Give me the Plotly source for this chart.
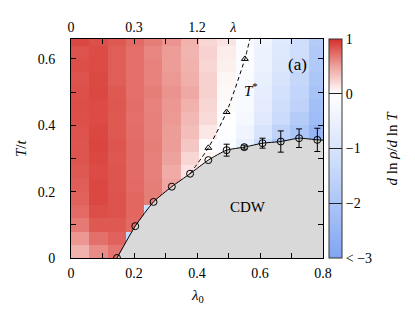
import plotly.graph_objects as go

# heatmap grid (cell centres)
lam_centers = [0.029 + 0.058 * k for k in range(14)]
T_centers = [0.02 + 0.04 * j for j in range(17)]

# d ln rho / d ln T, one list per lambda0 column, from T bottom to top
c0 = [0.42, 0.55, 0.68, 0.75, 0.78, 0.80, 0.82, 0.84, 0.84, 0.85, 0.86, 0.87, 0.86, 0.85, 0.87, 0.85, 0.90]
c1 = [0.60, 0.72, 0.82, 0.87, 0.90, 0.90, 0.88, 0.90, 0.91, 0.90, 0.88, 0.88, 0.90, 0.89, 0.88, 0.88, 0.86]
c2 = [0.70, 0.78, 0.82, 0.85, 0.85, 0.84, 0.84, 0.83, 0.84, 0.82, 0.82, 0.83, 0.82, 0.80, 0.80, 0.80, 0.82]
c3 = [0.70, -1.4, 0.75, 0.76, 0.76, 0.75, 0.74, 0.74, 0.74, 0.73, 0.72, 0.73, 0.72, 0.72, 0.72, 0.72, 0.74]
c4 = [0.60, 0.60, 0.60, -1.2, 0.66, 0.66, 0.65, 0.65, 0.66, 0.65, 0.65, 0.64, 0.66, 0.64, 0.64, 0.62, 0.66]
c5 = [0.50, 0.50, 0.50, 0.50, 0.50, 0.48, 0.45, 0.50, 0.52, 0.52, 0.54, 0.55, 0.56, 0.54, 0.52, 0.52, 0.56]
c6 = [0.30, 0.30, 0.30, 0.30, 0.30, 0.25, 0.15, 0.22, 0.30, 0.35, 0.38, 0.42, 0.46, 0.43, 0.42, 0.40, 0.42]
c7 = [0.10, 0.10, 0.10, 0.10, 0.10, 0.10, 0.05, 0.05, 0.00, 0.13, 0.20, 0.22, 0.25, 0.25, 0.22, 0.24, 0.22]
c8 = [-0.1, -0.1, -0.1, -0.1, -0.1, -0.1, -0.1, -0.1, -0.1, -0.05, 0.00, 0.02, 0.03, 0.05, 0.08, 0.10, 0.15]
c9 = [-0.5, -0.5, -0.5, -0.5, -0.5, -0.5, -0.5, -0.5, -0.6, -0.40, -0.25, -0.20, -0.18, -0.15, -0.12, -0.10, -0.08]
c10 = [-1.2, -1.2, -1.2, -1.2, -1.2, -1.2, -1.2, -1.2, -1.3, -1.0, -0.8, -0.7, -0.65, -0.6, -0.5, -0.45, -0.4]
c11 = [-1.8, -1.8, -1.8, -1.8, -1.8, -1.8, -1.8, -1.8, -2.0, -1.6, -1.3, -1.2, -1.1, -1.0, -0.9, -0.85, -0.8]
c12 = [-2.2, -2.2, -2.2, -2.2, -2.2, -2.2, -2.2, -2.2, -2.4, -2.0, -1.8, -1.6, -1.5, -1.4, -1.3, -1.2, -1.2]
c13 = [-2.6, -2.6, -2.6, -2.6, -2.6, -2.6, -2.6, -2.6, -2.7, -2.5, -2.3, -2.2, -2.1, -2.0, -1.9, -1.9, -1.8]
columns = [c0, c1, c2, c3, c4, c5, c6, c7, c8, c9, c10, c11, c12, c13]
z = [[col[j] for col in columns] for j in range(len(T_centers))]

# CDW transition line
cdw_lam = [0.146, 0.204, 0.262, 0.320, 0.378, 0.436, 0.494, 0.550, 0.608, 0.666, 0.724, 0.782]
cdw_T = [0.0, 0.096, 0.169, 0.215, 0.254, 0.295, 0.325, 0.334, 0.346, 0.351, 0.361, 0.356]
cdw_err = [0.0, 0.0, 0.0, 0.0, 0.0, 0.0, 0.018, 0.006, 0.015, 0.032, 0.028, 0.035]
cdw_end_T = 0.355

# T* crossover
tstar_lam = [0.436, 0.494, 0.552]
tstar_T = [0.332, 0.44, 0.60]
tstar_line_lam = [0.378, 0.436, 0.494, 0.552, 0.568]
tstar_line_T = [0.254, 0.332, 0.44, 0.60, 0.66]

# ticks
x_ticks = [0, 0.1, 0.2, 0.3, 0.4, 0.5, 0.6, 0.7, 0.8]
x_labels = ["0", "", "0.2", "", "0.4", "", "0.6", "", "0.8"]
y_ticks = [0, 0.1, 0.2, 0.3, 0.4, 0.5, 0.6]
y_labels = ["0", "", "0.2", "", "0.4", "", "0.6"]
top_ticks = [0, 0.2, 0.4, 0.515]
top_labels = ["0", "0.3", "1.2", "<i>λ</i>"]
cb_ticks = [1, 0, -1, -2, -3]
cb_labels = ["1", "0", "−1", "−2", "&lt; −3"]

FONT = "Liberation Serif, Times New Roman, DejaVu Serif, serif"
XMAX, YMAX = 0.8, 0.66

colorscale = [
    [0.0, "rgb(128,164,242)"],
    [0.25, "rgb(172,198,248)"],
    [0.5, "rgb(216,228,252)"],
    [0.75, "rgb(255,255,255)"],
    [0.875, "rgb(238,162,157)"],
    [1.0, "rgb(214,48,42)"],
]

fig = go.Figure()
fig.add_trace(go.Heatmap(
    x=lam_centers, y=T_centers, z=z, zmin=-3, zmax=1,
    colorscale=colorscale, zsmooth=False, hoverinfo="skip",
    colorbar=dict(
        x=1.024, xanchor="left", xpad=0, y=0.5, yanchor="middle", ypad=0,
        len=1, lenmode="fraction", thickness=13, thicknessmode="pixels",
        outlinewidth=1, outlinecolor="#333",
        tickvals=cb_ticks, ticktext=cb_labels, ticks="inside", ticklen=13,
        tickcolor="#222", tickwidth=1,
        tickfont=dict(family=FONT, size=14, color="black"),
    ),
))

# grey CDW region
fill_x = cdw_lam + [XMAX, XMAX, cdw_lam[0]]
fill_y = cdw_T + [cdw_end_T, 0, 0]
fig.add_trace(go.Scatter(x=fill_x, y=fill_y, fill="toself", fillcolor="rgb(217,217,217)",
                         mode="none", hoverinfo="skip", showlegend=False))

# CDW line
fig.add_trace(go.Scatter(x=cdw_lam + [XMAX], y=cdw_T + [cdw_end_T], mode="lines",
                         line=dict(color="black", width=1, shape="spline", smoothing=0.6),
                         showlegend=False, hoverinfo="skip"))
# error bars
idx = [i for i, e in enumerate(cdw_err) if e > 0]
fig.add_trace(go.Scatter(x=[cdw_lam[i] for i in idx], y=[cdw_T[i] for i in idx], mode="markers",
                         marker=dict(size=1, color="rgba(0,0,0,0)"),
                         error_y=dict(type="data", array=[cdw_err[i] for i in idx], color="black",
                                      thickness=1, width=3),
                         showlegend=False, hoverinfo="skip"))
fig.add_trace(go.Scatter(x=cdw_lam, y=cdw_T, mode="markers",
                         marker=dict(symbol="circle-open", size=7, color="black", line=dict(width=1)),
                         showlegend=False))

# T* line
fig.add_trace(go.Scatter(x=tstar_line_lam, y=tstar_line_T, mode="lines",
                         line=dict(color="black", width=1, dash="4px,3px", shape="spline", smoothing=0.6),
                         showlegend=False, hoverinfo="skip"))
fig.add_trace(go.Scatter(x=tstar_lam, y=tstar_T, mode="markers",
                         marker=dict(symbol="triangle-up-open", size=6, color="black", line=dict(width=1)),
                         showlegend=False))

# invisible trace for top axis
fig.add_trace(go.Scatter(x=[0, XMAX], y=[0, 0], xaxis="x2", mode="markers",
                         marker=dict(opacity=0), showlegend=False, hoverinfo="skip"))

axis_font = dict(family=FONT, size=14, color="black")
fig.update_layout(
    width=407, height=303,
    margin=dict(l=62.5, r=92, t=23.7, b=53.3),
    paper_bgcolor="white", plot_bgcolor="white",
    font=axis_font,
    xaxis=dict(range=[0, XMAX], tickvals=x_ticks, ticktext=x_labels, ticks="inside", ticklen=5,
               tickcolor="black", showline=True, linecolor="black", linewidth=1, mirror="ticks",
               showgrid=False, zeroline=False, tickfont=axis_font, ticklabelstandoff=2),
    xaxis2=dict(range=[0, XMAX], overlaying="x", side="top", anchor="y", tickvals=top_ticks,
                ticktext=top_labels, ticks="", showgrid=False, zeroline=False, showline=False,
                tickfont=axis_font, ticklabelstandoff=3),
    yaxis=dict(range=[0, YMAX], tickvals=y_ticks, ticktext=y_labels, ticks="inside", ticklen=5,
               tickcolor="black", showline=True, linecolor="black", linewidth=1, mirror="ticks",
               showgrid=False, zeroline=False, tickfont=axis_font, ticklabelstandoff=12),
    annotations=[
        dict(text="<i>λ</i><sub>0</sub>", x=0.5, y=-0.175, xref="paper", yref="paper",
             showarrow=False, font=dict(family=FONT, size=15), xanchor="center", yanchor="middle"),
        dict(text="<i>T</i>/<i>t</i>", x=-0.2, y=0.5, xref="paper", yref="paper", textangle=-90,
             showarrow=False, font=dict(family=FONT, size=15), xanchor="center", yanchor="middle"),
        dict(text="<i>d</i> ln <i>ρ</i>/<i>d</i> ln <i>T</i>", x=1.27, y=0.5, xref="paper", yref="paper",
             textangle=-90, showarrow=False, font=dict(family=FONT, size=15),
             xanchor="center", yanchor="middle"),
        dict(text="CDW", x=0.563, y=0.154, xref="x", yref="y", showarrow=False,
             font=dict(family=FONT, size=15)),
        dict(text="<i>T</i><sup>*</sup>", x=0.573, y=0.505, xref="x", yref="y", showarrow=False,
             font=dict(family=FONT, size=15)),
        dict(text="(a)", x=0.718, y=0.583, xref="x", yref="y", showarrow=False,
             font=dict(family=FONT, size=17)),
    ],
)

fig.write_html("out.html")
